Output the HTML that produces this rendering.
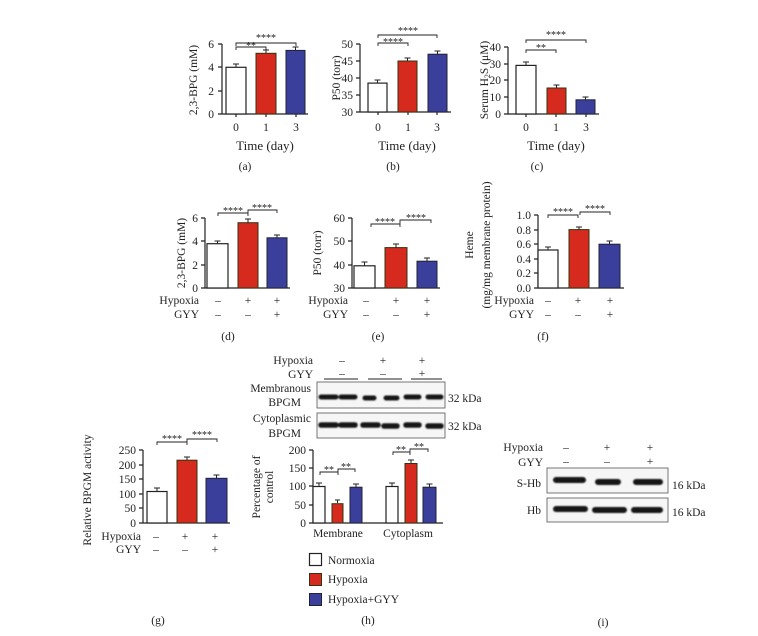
<!DOCTYPE html>
<html><head><meta charset="utf-8"><style>
body{margin:0;background:#fff}
svg{display:block}
text{font-family:"Liberation Serif",serif;fill:#222}
.t{font-size:11.5px}
.s{font-size:10px}
.l{font-size:13px}
.ax{stroke:#222;stroke-width:1.2;fill:none}
.w{fill:#fff;stroke:#222;stroke-width:1.2}
.r{fill:#d62a1e;stroke:#331;stroke-width:1}
.b{fill:#3a3f9c;stroke:#223;stroke-width:1}
.e{stroke:#222;stroke-width:1}
.br{stroke:#222;stroke-width:0.9;fill:none}
.band{stroke:#151515;stroke-linecap:round;filter:url(#bl)}
</style></head><body>
<svg width="758" height="636" viewBox="0 0 758 636" xmlns="http://www.w3.org/2000/svg">
<defs><filter id="bl" filterUnits="userSpaceOnUse" x="0" y="0" width="758" height="636"><feGaussianBlur stdDeviation="0.8"/></filter></defs>
<!-- (a) -->
<g>
<path class="ax" d="M222,44V114H308 M218,44H222 M218,67H222 M218,91H222 M218,114H222 M236,114v3 M266,114v3 M296,114v3"/>
<text class="t" x="214" y="48" text-anchor="end">6</text><text class="t" x="214" y="71" text-anchor="end">4</text><text class="t" x="214" y="95" text-anchor="end">2</text><text class="t" x="214" y="118" text-anchor="end">0</text>
<rect class="w" x="226" y="67.3" width="20" height="46.7"/><rect class="r" x="256" y="53.3" width="20" height="60.7"/><rect class="b" x="286" y="50.4" width="19" height="63.6"/>
<path class="e" d="M236,67V64M233,64H239 M266,53V50M263,50H269 M295.5,50V47M292.5,47H298.5"/>
<path class="br" d="M236,50V47H266V50 M236,46V43H296V46"/>
<text class="s" x="251" y="49" text-anchor="middle">**</text><text class="s" x="266" y="41" text-anchor="middle">****</text>
<text class="t" x="236" y="131" text-anchor="middle">0</text><text class="t" x="266" y="131" text-anchor="middle">1</text><text class="t" x="296" y="131" text-anchor="middle">3</text>
<text class="l" x="265" y="150" text-anchor="middle">Time (day)</text>
<text class="t" x="245" y="170" text-anchor="middle">(a)</text>
<text class="t" transform="translate(197,80) rotate(-90)" text-anchor="middle">2,3-BPG (mM)</text>
</g>
<!-- (b) -->
<g>
<path class="ax" d="M360,44V112H451 M356,44H360 M356,61H360 M356,78H360 M356,95H360 M356,112H360 M378,112v3 M408,112v3 M437,112v3"/>
<text class="t" x="353" y="48" text-anchor="end">50</text><text class="t" x="353" y="65" text-anchor="end">45</text><text class="t" x="353" y="82" text-anchor="end">40</text><text class="t" x="353" y="99" text-anchor="end">35</text><text class="t" x="353" y="116" text-anchor="end">30</text>
<rect class="w" x="368" y="83.1" width="19" height="28.9"/><rect class="r" x="398" y="61" width="19" height="51"/><rect class="b" x="428" y="54.2" width="19" height="57.8"/>
<path class="e" d="M377.5,83V80M374.5,80H380.5 M407.5,61V58M404.5,58H410.5 M437.5,54V51M434.5,51H440.5"/>
<path class="br" d="M378,46V43H408V46 M378,38V35H437V38"/>
<text class="s" x="393" y="45" text-anchor="middle">****</text><text class="s" x="408" y="34" text-anchor="middle">****</text>
<text class="t" x="378" y="131" text-anchor="middle">0</text><text class="t" x="408" y="131" text-anchor="middle">1</text><text class="t" x="437" y="131" text-anchor="middle">3</text>
<text class="l" x="407" y="150" text-anchor="middle">Time (day)</text>
<text class="t" x="393" y="170" text-anchor="middle">(b)</text>
<text class="t" transform="translate(340,78) rotate(-90)" text-anchor="middle">P50 (torr)</text>
</g>
<!-- (c) -->
<g>
<path class="ax" d="M508,47V114H599 M504,47H508 M504,64H508 M504,80H508 M504,97H508 M504,114H508 M526,114v3 M556,114v3 M586,114v3"/>
<text class="t" x="501" y="51" text-anchor="end">40</text><text class="t" x="501" y="68" text-anchor="end">30</text><text class="t" x="501" y="84" text-anchor="end">20</text><text class="t" x="501" y="101" text-anchor="end">10</text><text class="t" x="501" y="118" text-anchor="end">0</text>
<rect class="w" x="516" y="65.4" width="20" height="48.6"/><rect class="r" x="547" y="88" width="19" height="26"/><rect class="b" x="576" y="99.8" width="19" height="14.2"/>
<path class="e" d="M526,65V62M523,62H529 M556.5,88V85M553.5,85H559.5 M585.5,100V97M582.5,97H588.5"/>
<path class="br" d="M526,53V50H556V53 M526,43V40H586V43"/>
<text class="s" x="541" y="51" text-anchor="middle">**</text><text class="s" x="556" y="38" text-anchor="middle">****</text>
<text class="t" x="526" y="131" text-anchor="middle">0</text><text class="t" x="556" y="131" text-anchor="middle">1</text><text class="t" x="586" y="131" text-anchor="middle">3</text>
<text class="l" x="556" y="150" text-anchor="middle">Time (day)</text>
<text class="t" x="537" y="170" text-anchor="middle">(c)</text>
<text class="t" transform="translate(488,80) rotate(-90)" text-anchor="middle">Serum H<tspan font-size="8" dy="2">2</tspan><tspan dy="-2">S (μM)</tspan></text>
</g>
<!-- (d) -->
<g>
<path class="ax" d="M205,218V288H290 M201,218H205 M201,241H205 M201,265H205 M201,288H205"/>
<text class="t" x="198" y="222" text-anchor="end">6</text><text class="t" x="198" y="245" text-anchor="end">4</text><text class="t" x="198" y="269" text-anchor="end">2</text><text class="t" x="198" y="292" text-anchor="end">0</text>
<rect class="w" x="207" y="243.7" width="21" height="44.3"/><rect class="r" x="238" y="222.7" width="20" height="65.3"/><rect class="b" x="267" y="237.8" width="20" height="50.2"/>
<path class="e" d="M217.5,244V241M214.5,241H220.5 M248,223V219M245,219H251 M277,238V235M274,235H280"/>
<path class="br" d="M218,216V213H248V216 M248,213V210H277V213"/>
<text class="s" x="233" y="214" text-anchor="middle">****</text><text class="s" x="262" y="211" text-anchor="middle">****</text>
<text class="t" x="199" y="304" text-anchor="end">Hypoxia</text><text class="t" x="199" y="318" text-anchor="end">GYY</text>
<text class="t" x="218" y="304" text-anchor="middle">–</text><text class="t" x="248" y="304" text-anchor="middle">+</text><text class="t" x="277" y="304" text-anchor="middle">+</text>
<text class="t" x="218" y="318" text-anchor="middle">–</text><text class="t" x="248" y="318" text-anchor="middle">–</text><text class="t" x="277" y="318" text-anchor="middle">+</text>
<text class="t" x="228" y="340" text-anchor="middle">(d)</text>
<text class="t" transform="translate(185,253) rotate(-90)" text-anchor="middle">2,3-BPG (mM)</text>
</g>
<!-- (e) -->
<g>
<path class="ax" d="M352,218V288H440 M348,218H352 M348,241H352 M348,265H352 M348,288H352"/>
<text class="t" x="345" y="222" text-anchor="end">60</text><text class="t" x="345" y="245" text-anchor="end">50</text><text class="t" x="345" y="269" text-anchor="end">40</text><text class="t" x="345" y="292" text-anchor="end">30</text>
<rect class="w" x="354" y="265.8" width="21" height="22.2"/><rect class="r" x="385" y="247.6" width="22" height="40.4"/><rect class="b" x="417" y="261.2" width="20" height="26.8"/>
<path class="e" d="M364.5,266V262M361.5,262H367.5 M396,248V244M393,244H399 M427,261V258M424,258H430"/>
<path class="br" d="M371,227V224H400V227 M400,224V220H431V223"/>
<text class="s" x="385" y="225" text-anchor="middle">****</text><text class="s" x="416" y="221" text-anchor="middle">****</text>
<text class="t" x="348" y="304" text-anchor="end">Hypoxia</text><text class="t" x="348" y="318" text-anchor="end">GYY</text>
<text class="t" x="366" y="304" text-anchor="middle">–</text><text class="t" x="396" y="304" text-anchor="middle">+</text><text class="t" x="427" y="304" text-anchor="middle">+</text>
<text class="t" x="366" y="318" text-anchor="middle">–</text><text class="t" x="396" y="318" text-anchor="middle">–</text><text class="t" x="427" y="318" text-anchor="middle">+</text>
<text class="t" x="378" y="340" text-anchor="middle">(e)</text>
<text class="t" transform="translate(321,253) rotate(-90)" text-anchor="middle">P50 (torr)</text>
</g>
<!-- (f) -->
<g>
<path class="ax" d="M538,215V288H624 M534,215H538 M534,230H538 M534,244H538 M534,259H538 M534,273H538 M534,288H538"/>
<text class="t" x="531" y="219" text-anchor="end">1.0</text><text class="t" x="531" y="234" text-anchor="end">0.8</text><text class="t" x="531" y="248" text-anchor="end">0.6</text><text class="t" x="531" y="263" text-anchor="end">0.4</text><text class="t" x="531" y="277" text-anchor="end">0.2</text><text class="t" x="531" y="292" text-anchor="end">0.0</text>
<rect class="w" x="538" y="250" width="20" height="38"/><rect class="r" x="569" y="229.6" width="20" height="58.4"/><rect class="b" x="599" y="244.2" width="21" height="43.8"/>
<path class="e" d="M548,250V247M545,247H551 M579,230V227M576,227H582 M609.5,244V241M606.5,241H612.5"/>
<path class="br" d="M548,218V215H578V218 M580,215V212H610V215"/>
<text class="s" x="563" y="215" text-anchor="middle">****</text><text class="s" x="595" y="212" text-anchor="middle">****</text>
<text class="t" x="534" y="304" text-anchor="end">Hypoxia</text><text class="t" x="534" y="318" text-anchor="end">GYY</text>
<text class="t" x="548" y="304" text-anchor="middle">–</text><text class="t" x="578" y="304" text-anchor="middle">+</text><text class="t" x="610" y="304" text-anchor="middle">+</text>
<text class="t" x="548" y="318" text-anchor="middle">–</text><text class="t" x="578" y="318" text-anchor="middle">–</text><text class="t" x="610" y="318" text-anchor="middle">+</text>
<text class="t" x="543" y="340" text-anchor="middle">(f)</text>
<text class="t" transform="translate(473,245) rotate(-90)" text-anchor="middle">Heme</text>
<text class="t" transform="translate(490,245) rotate(-90)" text-anchor="middle">(mg/mg membrane protein)</text>
</g>
<!-- (g) -->
<g>
<path class="ax" d="M143,450V523H230 M139,450H143 M139,465H143 M139,479H143 M139,494H143 M139,508H143 M139,523H143"/>
<text class="t" x="136" y="454" text-anchor="end">250</text><text class="t" x="136" y="469" text-anchor="end">200</text><text class="t" x="136" y="483" text-anchor="end">150</text><text class="t" x="136" y="498" text-anchor="end">100</text><text class="t" x="136" y="512" text-anchor="end">50</text><text class="t" x="136" y="527" text-anchor="end">0</text>
<rect class="w" x="147" y="491.5" width="20" height="31.5"/><rect class="r" x="177" y="460.2" width="20" height="62.8"/><rect class="b" x="206" y="478.3" width="21" height="44.7"/>
<path class="e" d="M157,491V488M154,488H160 M187,460V457M184,457H190 M216.5,478V475M213.5,475H219.5"/>
<path class="br" d="M157,445V442H187V445 M187,442V439H217V442"/>
<text class="s" x="172" y="442" text-anchor="middle">****</text><text class="s" x="202" y="438" text-anchor="middle">****</text>
<text class="t" x="141" y="540" text-anchor="end">Hypoxia</text><text class="t" x="141" y="553" text-anchor="end">GYY</text>
<text class="t" x="156" y="540" text-anchor="middle">–</text><text class="t" x="185" y="540" text-anchor="middle">+</text><text class="t" x="215" y="540" text-anchor="middle">+</text>
<text class="t" x="156" y="553" text-anchor="middle">–</text><text class="t" x="185" y="553" text-anchor="middle">–</text><text class="t" x="215" y="553" text-anchor="middle">+</text>
<text class="t" x="158" y="624" text-anchor="middle">(g)</text>
<text class="t" transform="translate(91,490) rotate(-90)" text-anchor="middle">Relative BPGM activity</text>
</g>
<!-- (h) -->
<g>
<text class="t" x="313" y="364" text-anchor="end">Hypoxia</text><text class="t" x="313" y="378" text-anchor="end">GYY</text>
<text class="t" x="342" y="364" text-anchor="middle">–</text><text class="t" x="383" y="364" text-anchor="middle">+</text><text class="t" x="422" y="364" text-anchor="middle">+</text>
<text class="t" x="342" y="377" text-anchor="middle">–</text><text class="t" x="383" y="377" text-anchor="middle">–</text><text class="t" x="422" y="377" text-anchor="middle">+</text>
<path class="br" d="M324,379H358 M368,379H402 M411,379H442"/>
<rect x="317" y="382" width="128" height="26" fill="#f6f6f6" stroke="#555" stroke-width="0.8"/>
<path class="band" stroke-width="5" d="M321,397H336 M341,397H355 M365,398H374 M386,398H397 M406,397H419 M428,397H441"/>
<rect x="317" y="413" width="128" height="25" fill="#f6f6f6" stroke="#555" stroke-width="0.8"/>
<path class="band" stroke-width="5.5" d="M321,425H336 M341,425H355 M363,425H378 M384,426H397 M406,425H419 M428,426H441"/>
<text class="t" x="311" y="392" text-anchor="end">Membranous</text><text class="t" x="301" y="406" text-anchor="end">BPGM</text>
<text class="t" x="311" y="422" text-anchor="end">Cytoplasmic</text><text class="t" x="301" y="437" text-anchor="end">BPGM</text>
<text class="t" x="448" y="402">32 kDa</text><text class="t" x="448" y="430">32 kDa</text>
<path class="ax" d="M313,450V523H443 M309,450H313 M309,468H313 M309,486H313 M309,505H313 M309,523H313"/>
<text class="t" x="306" y="454" text-anchor="end">200</text><text class="t" x="306" y="472" text-anchor="end">150</text><text class="t" x="306" y="490" text-anchor="end">100</text><text class="t" x="306" y="509" text-anchor="end">50</text><text class="t" x="306" y="527" text-anchor="end">0</text>
<rect class="w" x="313" y="486.5" width="12" height="36.5"/><rect class="r" x="332" y="503.7" width="11" height="19.3"/><rect class="b" x="350" y="487.2" width="12" height="35.8"/>
<rect class="w" x="386" y="486.5" width="12" height="36.5"/><rect class="r" x="405" y="463.5" width="12" height="59.5"/><rect class="b" x="423" y="487.2" width="13" height="35.8"/>
<path class="e" d="M319,486V483M316,483H322 M337.5,503V500M335,500H340 M356,487V484M353,484H359 M392,486V483M389,483H395 M411,463V460M408,460H414 M429.5,487V484M426.5,484H432.5"/>
<path class="br" d="M320,475V472H338V475 M338,472V469H355V472 M393,455V452H410V455 M410,452V449H428V452"/>
<text class="s" x="329" y="473" text-anchor="middle">**</text><text class="s" x="346" y="470" text-anchor="middle">**</text>
<text class="s" x="401" y="453" text-anchor="middle">**</text><text class="s" x="419" y="450" text-anchor="middle">**</text>
<text class="t" x="338" y="537" text-anchor="middle">Membrane</text><text class="t" x="408" y="537" text-anchor="middle">Cytoplasm</text>
<text class="t" transform="translate(260,487) rotate(-90)" text-anchor="middle">Percentage of</text>
<text class="t" transform="translate(273,487) rotate(-90)" text-anchor="middle">control</text>
<rect class="w" x="309.5" y="553.5" width="12" height="12"/><rect class="r" x="309.5" y="573.5" width="12" height="12"/><rect class="b" x="309.5" y="593.5" width="12" height="12"/>
<text class="t" x="328" y="564">Normoxia</text><text class="t" x="328" y="583">Hypoxia</text><text class="t" x="328" y="603">Hypoxia+GYY</text>
<text class="t" x="368" y="624" text-anchor="middle">(h)</text>
</g>
<!-- (i) -->
<g>
<text class="t" x="543" y="451" text-anchor="end">Hypoxia</text><text class="t" x="543" y="466" text-anchor="end">GYY</text>
<text class="t" x="566" y="451" text-anchor="middle">–</text><text class="t" x="607" y="451" text-anchor="middle">+</text><text class="t" x="650" y="451" text-anchor="middle">+</text>
<text class="t" x="566" y="465" text-anchor="middle">–</text><text class="t" x="607" y="465" text-anchor="middle">–</text><text class="t" x="650" y="465" text-anchor="middle">+</text>
<rect x="547" y="468" width="121" height="25" fill="#f6f6f6" stroke="#555" stroke-width="0.8"/>
<path class="band" stroke-width="6" d="M556,480H583 M598,482H618 M636,482H660"/>
<rect x="547" y="498" width="121" height="24" fill="#f6f6f6" stroke="#555" stroke-width="0.8"/>
<path class="band" stroke-width="6" d="M556,509H585 M595,510H624 M634,510H660"/>
<text class="t" x="541" y="487" text-anchor="end">S-Hb</text><text class="t" x="541" y="514" text-anchor="end">Hb</text>
<text class="t" x="672" y="489">16 kDa</text><text class="t" x="672" y="516">16 kDa</text>
<text class="t" x="603" y="626" text-anchor="middle">(i)</text>
</g>
</svg>
</body></html>
